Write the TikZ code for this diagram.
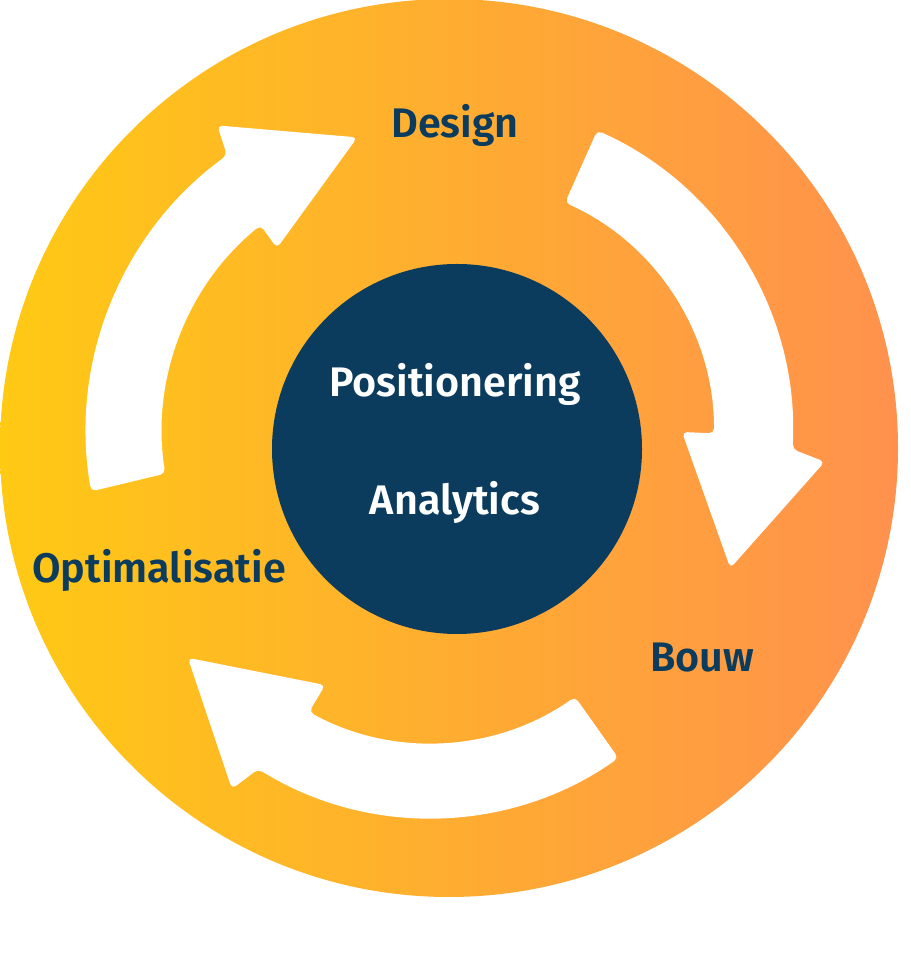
\documentclass[tikz,border=0pt]{standalone}
\usepackage{fontspec}
\setmainfont{Fira Sans}[BoldFont={Fira Sans SemiBold}]
\definecolor{navy}{HTML}{0B3C5D}
\definecolor{ylw}{HTML}{FFC914}
\definecolor{org}{HTML}{FF914D}
\begin{document}
\begin{tikzpicture}[x=1pt,y=1pt,
  lbl/.style={font=\fontsize{41.3}{48}\selectfont\bfseries, text=navy, anchor=base, inner sep=0pt},
  innerlbl/.style={lbl, text=white},
  cyclearrow/.style={fill=white, rounded corners=5pt}]
\useasboundingbox (0,0) rectangle (910,963);
\fill[white] (0,0) rectangle (910,963);
% big gradient disc
\shade[left color=ylw, right color=org] (449,515) circle[radius=449];
% left arrow (Optimalisatie -> Design)
\begin{scope}[shift={(428,531)}]
\path[cyclearrow] (190:342) arc[start angle=190, end angle=126, radius=342]
  -- (124.5:372) -- (103.5:303) -- (129.4:238) -- (129:266)
  arc[start angle=129, end angle=189, radius=266] -- cycle;
\end{scope}
% right arrow (Design -> Bouw)
\begin{scope}[shift={(463,531)}]
\path[cyclearrow] (66:330) arc[start angle=66, end angle=-3, radius=330]
  -- (-4.7:363) -- (-27:300) -- (0:219) -- (-0.3:251)
  arc[start angle=-0.3, end angle=66, radius=251] -- cycle;
\end{scope}
% bottom arrow (Bouw -> Optimalisatie)
\begin{scope}[shift={(430,471)}]
\path[cyclearrow] (-54.7:326) arc[start angle=-54.7, end angle=-121.8, radius=326]
  -- (-123.7:357) -- (-145.6:293.5) -- (-118.5:219.7) -- (-118.8:251)
  arc[start angle=-118.8, end angle=-54.7, radius=251] -- cycle;
\end{scope}
% centre disc
\fill[navy] (457,514) circle[radius=185];
% labels
\node[lbl] (design) at (455,825) {Design};
\node[lbl] (bouw) at (702,291) {Bouw};
\node[lbl] (optim) at (159,380) {Optimalisatie};
\node[innerlbl] (pos) at (455,566) {Positionering};
\node[innerlbl] (ana) at (455,448) {Analytics};
\end{tikzpicture}
\end{document}
